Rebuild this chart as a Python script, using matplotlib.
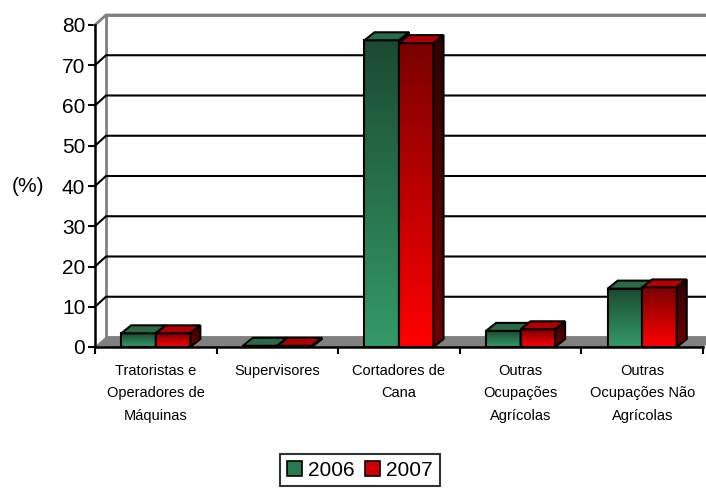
import numpy as np
import matplotlib
matplotlib.use('Agg')
import matplotlib.pyplot as plt
from matplotlib.patches import Polygon, Patch
from matplotlib.colors import to_rgb

plt.rcParams['font.family'] = ['Liberation Sans', 'DejaVu Sans']

# dados
categorias = ['Tratoristas e\nOperadores de\nMáquinas', 'Supervisores', 'Cortadores de\nCana',
              'Outras\nOcupações\nAgrícolas', 'Outras\nOcupações Não\nAgrícolas']
anos = ['2006', '2007']
v2006 = [3.4, 0.3, 76.2, 4.0, 14.5]
v2007 = [3.4, 0.3, 75.5, 4.4, 14.8]
yticks = [0, 10, 20, 30, 40, 50, 60, 70, 80]

# cores (topo -> base da face frontal, face superior, face lateral topo/base)
cores = {
    '2006': dict(front=('#1b4a31', '#349a68'), top='#2a6a46', side=('#0e2a1b', '#1b5035')),
    '2007': dict(front=('#7a0000', '#ff0000'), top='#b00000', side=('#300000', '#700000')),
}

fig = plt.figure(figsize=(7.06, 4.93), dpi=100)
W, H = 706, 493
ax = fig.add_axes([95 / W, 1 - 347 / H, 608 / W, 322 / H])
ax.set_xlim(0, 5)
ax.set_ylim(0, 80)

n = len(categorias)
ymax = 80
# profundidade 3D em unidades de dados
dx, dy = 11 / (608 / n), 10 / (322 / ymax)
bdx, bdy = 10 / (608 / n), 8 / (322 / ymax)
largura = 0.284


def grad_face(pts, c1, c2, z):
    pts = np.array(pts)
    poly = Polygon(pts, closed=True, facecolor='none', edgecolor='black', lw=1.5, zorder=z + 0.1)
    ax.add_patch(poly)
    a, b = np.array(to_rgb(c1)), np.array(to_rgb(c2))
    t = np.linspace(0, 1, 100)[:, None]
    img = (a * (1 - t) + b * t)[:, None, :]
    im = ax.imshow(img, extent=[pts[:, 0].min(), pts[:, 0].max(), pts[:, 1].min(), pts[:, 1].max()],
                   origin='upper', aspect='auto', zorder=z, interpolation='bilinear')
    im.set_clip_path(poly)


# parede do fundo
ax.add_patch(Polygon([(dx, dy), (n + dx, dy), (n + dx, ymax + dy), (dx, ymax + dy)], closed=True,
                     facecolor='white', edgecolor='#808080', lw=2, zorder=1, clip_on=False))
for v in yticks[1:]:
    cor = '#808080' if v == ymax else 'black'
    ax.plot([0, dx, n + dx], [v, v + dy, v + dy], color=cor, lw=1.5 if v < ymax else 2,
            zorder=2, clip_on=False, solid_joinstyle='miter')
# piso
ax.add_patch(Polygon([(0, 0), (n, 0), (n + dx, dy), (dx, dy)], closed=True,
                     facecolor='#808080', edgecolor='#808080', lw=0.5, zorder=3, clip_on=False))

# barras
z = 4
for i in range(n):
    for j, (ano, vals) in enumerate(zip(anos, [v2006, v2007])):
        c = cores[ano]
        x0 = i + 0.5 - largura + j * largura
        x1 = x0 + largura
        h = vals[i]
        grad_face([(x0, 0), (x1, 0), (x1, h), (x0, h)], c['front'][0], c['front'][1], z)
        ax.add_patch(Polygon([(x0, h), (x1, h), (x1 + bdx, h + bdy), (x0 + bdx, h + bdy)], closed=True,
                             facecolor=c['top'], edgecolor='black', lw=1.5, zorder=z + 0.2))
        grad_face([(x1, 0), (x1 + bdx, bdy), (x1 + bdx, h + bdy), (x1, h)], c['side'][0], c['side'][1], z + 0.3)
        z += 1

ax.set_xlim(0, 5)
ax.set_ylim(0, 80)
for s in ['top', 'right']:
    ax.spines[s].set_visible(False)
for s in ['left', 'bottom']:
    ax.spines[s].set_linewidth(1.8)
    ax.spines[s].set_zorder(50)
ax.set_yticks(yticks)
ax.tick_params(axis='y', labelsize=15, length=5, width=1.5, pad=2)
ax.set_xticks(range(n + 1))
ax.set_xticklabels([])
ax.set_xticks(np.arange(n) + 0.5, minor=True)
ax.set_xticklabels(categorias, minor=True, fontsize=10.5, linespacing=1.78)
ax.tick_params(axis='x', which='major', length=5, width=1.5)
ax.tick_params(axis='x', which='minor', length=0, pad=12)
ax.patch.set_visible(False)

fig.text(28 / W, 1 - 187 / H, '(%)', fontsize=15, ha='center', va='center')

handles = [Patch(facecolor='#2a7a50', edgecolor='black', lw=1.2),
           Patch(facecolor='#d00000', edgecolor='black', lw=1.2)]
leg = fig.legend(handles, anos, loc='center', bbox_to_anchor=(360 / W, 1 - 470 / H), ncol=2,
                 fontsize=15, frameon=True, fancybox=False, handlelength=0.72, handleheight=0.72,
                 handletextpad=0.3, columnspacing=0.5, borderpad=0.33, borderaxespad=0)
leg.get_frame().set_edgecolor('black')
leg.get_frame().set_linewidth(1.5)

fig.savefig('out.png', dpi=100)
